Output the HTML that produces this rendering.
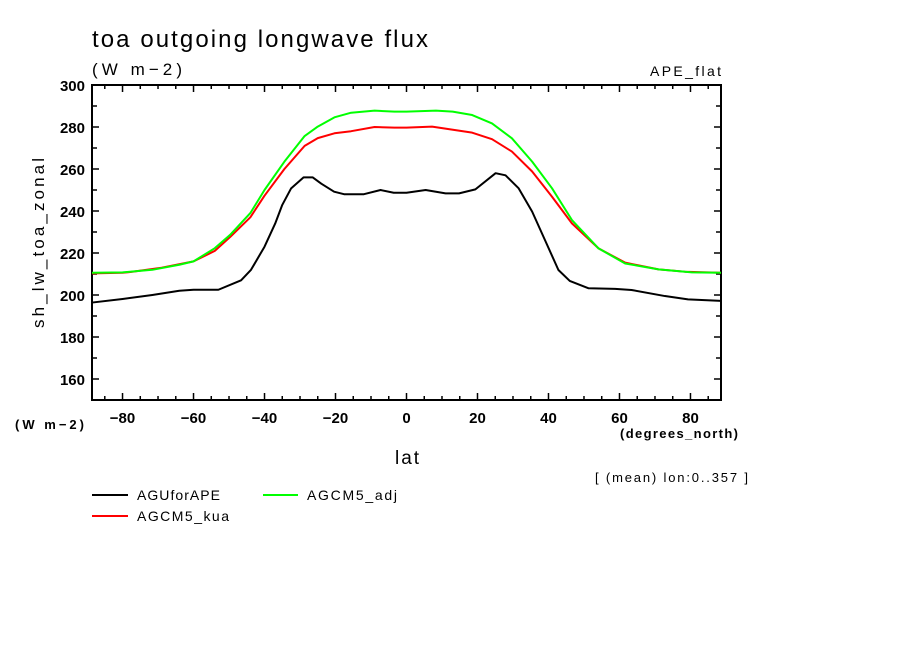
<!DOCTYPE html>
<html><head><meta charset="utf-8"><style>
body{margin:0;background:#fff;width:904px;height:654px;overflow:hidden}
svg{display:block}
text{font-family:"Liberation Sans","DejaVu Sans",sans-serif;fill:#000}
</style></head><body>
<svg id="chart" width="904" height="654">
<text x="92" y="47" font-size="24" textLength="336" lengthAdjust="spacing">toa outgoing longwave flux</text>
<text x="92" y="75" font-size="17" textLength="90" lengthAdjust="spacing">(W m−2)</text>
<text x="650" y="76" font-size="14" textLength="71" lengthAdjust="spacing">APE_flat</text>
<text transform="translate(44,243) rotate(-90)" font-size="17" text-anchor="middle" textLength="170" lengthAdjust="spacing">sh_lw_toa_zonal</text>
<text x="15" y="429" font-size="13" font-weight="bold" textLength="69" lengthAdjust="spacing">(W m−2)</text>
<text x="620" y="438" font-size="13" font-weight="bold" textLength="118" lengthAdjust="spacing">(degrees_north)</text>
<text x="395" y="464" font-size="19" textLength="24" lengthAdjust="spacing">lat</text>
<text x="595" y="482" font-size="13" textLength="153" lengthAdjust="spacing">[ (mean) lon:0..357 ]</text>
<g id="axes"></g>
<g id="series"></g>
<g>
<line x1="92" y1="495" x2="128" y2="495" stroke="#000" stroke-width="2"/>
<text x="137" y="500" font-size="14" textLength="83" lengthAdjust="spacing">AGUforAPE</text>
<line x1="92" y1="516" x2="128" y2="516" stroke="#f00" stroke-width="2"/>
<text x="137" y="521" font-size="14" textLength="92" lengthAdjust="spacing">AGCM5_kua</text>
<line x1="263" y1="495" x2="298" y2="495" stroke="#0f0" stroke-width="2"/>
<text x="307" y="500" font-size="14" textLength="90" lengthAdjust="spacing">AGCM5_adj</text>
</g>
</svg>
<script>
const yTicks=[160,180,200,220,240,260,280,300];
const xTicks=[-80,-60,-40,-20,0,20,40,60,80];
const blackLat=[-88.6,-80,-71.6,-64,-60,-53,-46.6,-43.8,-40,-37,-35,-32.5,-29,-26.4,-24,-20.4,-17.6,-12,-7.3,-3.6,0,5.4,11,14.8,19.4,25.1,27.9,31.6,35.4,39,42.8,46,51.3,58.8,63.4,72.8,79.3,88.6];
const blackVal=[196.4,198.1,200,202,202.5,202.5,207,212,223,234,242.9,250.8,256,256,253,249.2,248,248,250,248.7,248.7,250,248.4,248.4,250.3,258,257,250.8,239.7,226.2,211.9,206.7,203.2,202.9,202.4,199.5,197.9,197.2];
const redLat=[-88.6,-80,-77.5,-69,-60,-54,-49.7,-44,-40,-34.4,-28.7,-25,-20.3,-15.6,-9,-3.4,0,7.2,11.9,18.5,24.1,29.7,35.4,41,46.6,54.1,61.6,71,78.4,88.6];
const redVal=[210.3,210.6,211,213,216,221,227.6,237,247.3,260,271,274.7,277,278,280,279.7,279.7,280.2,279,277.3,274.2,268.3,258.8,246.8,234.1,222.2,215.4,212.2,211.1,210.6];
const greenLat=[-88.6,-80,-71.6,-64,-60,-54,-49.7,-44,-40,-34.4,-28.7,-25,-20.3,-15.6,-9,-3.4,0,8.3,13,18.5,24.1,29.7,35.4,41,46.6,54.1,61.6,71,80.4,88.6];
const greenVal=[210.6,210.8,212,214.4,216,222.3,228.6,239,250,263.5,275.7,280.2,284.6,286.8,287.8,287.3,287.3,287.8,287.3,285.7,281.7,274.6,263.5,250.8,235.7,222.2,215,212.2,210.8,210.6];
const X0=92,X1=721,Y0=85,Y1=400,LMIN=-88.6,LMAX=88.6,VMIN=150,VMAX=300;
const sx=l=>X0+(l-LMIN)/(LMAX-LMIN)*(X1-X0);
const sy=v=>Y1-(v-VMIN)/(VMAX-VMIN)*(Y1-Y0);
const NS='http://www.w3.org/2000/svg';
const axes=document.getElementById('axes');
function mk(tag,attrs,parent){const e=document.createElementNS(NS,tag);for(const k in attrs)e.setAttribute(k,attrs[k]);parent.appendChild(e);return e;}
const frame=mk('rect',{x:X0,y:Y0,width:X1-X0,height:Y1-Y0,fill:'none',stroke:'#000','stroke-width':2},axes);


for(let v=150;v<=300;v+=10){
  const major=yTicks.includes(v);const len=major?7:5;
  const t1=mk('line',{x1:X0,x2:X0+len,y1:sy(v),y2:sy(v),stroke:'#000','stroke-width':1.5},axes);
  
  
  const t2=mk('line',{x1:X1,x2:X1-len,y1:sy(v),y2:sy(v),stroke:'#000','stroke-width':1.5},axes);
  
  
}
yTicks.forEach(v=>{
  const t=mk('text',{x:X0-7,y:sy(v)+6,'font-size':15,'font-weight':'bold','text-anchor':'end'},axes);
  t.textContent=v;
  
  
});
for(let l=-85;l<=85;l+=5){
  const major=xTicks.includes(l);const len=major?7:4;
  const t1=mk('line',{x1:sx(l),x2:sx(l),y1:Y1,y2:Y1-len,stroke:'#000','stroke-width':1.5},axes);
  
  
  const t2=mk('line',{x1:sx(l),x2:sx(l),y1:Y0,y2:Y0+len,stroke:'#000','stroke-width':1.5},axes);
  
  
}
xTicks.forEach(l=>{
  const t=mk('text',{x:sx(l),y:Y1+23,'font-size':15,'font-weight':'bold','text-anchor':'middle'},axes);
  t.textContent=l<0?'−'+Math.abs(l):l;
  
  
});
const sg=document.getElementById('series');
function line(lats,vals,color,name){
  const p=mk('polyline',{points:lats.map((l,i)=>sx(l)+','+sy(vals[i])).join(' '),fill:'none',stroke:color,'stroke-width':2,'stroke-linejoin':'round'},sg);
  
  
}
line(blackLat,blackVal,'#000','series-aguforape');
line(redLat,redVal,'#f00','series-agcm5-kua');
line(greenLat,greenVal,'#0f0','series-agcm5-adj');
</script>
</body></html>
